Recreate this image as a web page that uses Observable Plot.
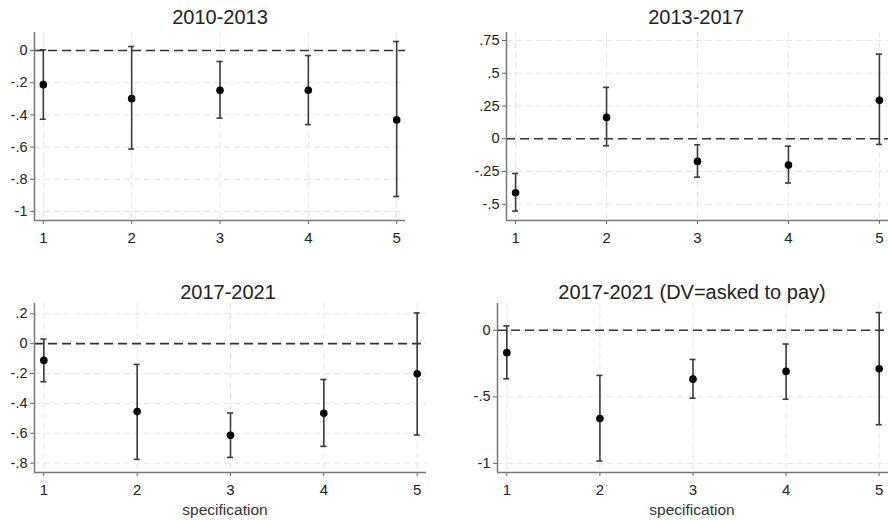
<!DOCTYPE html>
<html>
<head>
<meta charset="utf-8">
<script src="https://cdn.jsdelivr.net/npm/d3@7"></script>
<script src="https://cdn.jsdelivr.net/npm/@observablehq/plot@0.6"></script>
<style>
  html, body { margin: 0; padding: 0; background: #fff; }
  #wrap { position: relative; width: 888px; height: 520px; overflow: hidden; font-family: "Liberation Sans", Arial, sans-serif; }
  .panel { position: absolute; width: 444px; height: 260px; }
  .panel svg { position: absolute; left: 0; top: 0; overflow: visible; }
  .title { position: absolute; font-size: 20px; color: #222; white-space: nowrap; transform: translate(-50%, -50%); }
  .xlab { position: absolute; font-size: 15.5px; color: #333; white-space: nowrap; transform: translate(-50%, -50%); }
</style>
</head>
<body>
<div id="wrap"></div>
<script>
// ---- data ----
const specs = [1, 2, 3, 4, 5];

const titles = ["2010-2013", "2013-2017", "2017-2021", "2017-2021 (DV=asked to pay)"];

const est2010 = [-0.212, -0.299, -0.247, -0.247, -0.431];
const lo2010  = [-0.427, -0.612, -0.420, -0.460, -0.907];
const hi2010  = [ 0.004,  0.025, -0.068, -0.031,  0.056];

const est2013 = [-0.412,  0.163, -0.173, -0.201,  0.293];
const lo2013  = [-0.552, -0.053, -0.293, -0.338, -0.043];
const hi2013  = [-0.265,  0.392, -0.046, -0.056,  0.646];

const est2017 = [-0.112, -0.455, -0.614, -0.466, -0.202];
const lo2017  = [-0.255, -0.775, -0.762, -0.688, -0.612];
const hi2017  = [ 0.031, -0.139, -0.464, -0.240,  0.206];

const estPay = [-0.168, -0.663, -0.367, -0.309, -0.289];
const loPay  = [-0.364, -0.982, -0.510, -0.518, -0.709];
const hiPay  = [ 0.033, -0.339, -0.219, -0.103,  0.133];

const yTicks2010 = [0, -0.2, -0.4, -0.6, -0.8, -1];
const yTicks2013 = [0.75, 0.5, 0.25, 0, -0.25, -0.5];
const yTicks2017 = [0.2, 0, -0.2, -0.4, -0.6, -0.8];
const yTicksPay  = [0, -0.5, -1];

const xLabel = "specification";

// ---- layout ----
const stataFmt = v => {
  if (v === 0) return "0";
  let s = String(+v.toFixed(2));
  return s.replace(/^(-?)0\./, "$1.");
};

const xDomain = [0.9, 5.1];

const panels = [
  {title: titles[0], est: est2010, lo: lo2010, hi: hi2010, ticks: yTicks2010,
   left: 0, top: 0, ml: 34, mr: 39, mt: 32, mb: 40, y: [-1.056, 0.112], xlab: false, tx: 220, ty: 17},
  {title: titles[1], est: est2013, lo: lo2013, hi: hi2013, ticks: yTicks2013,
   left: 444, top: 0, ml: 62, mr: 0, mt: 32, mb: 40, y: [-0.624, 0.811], xlab: false, tx: 252, ty: 17},
  {title: titles[2], est: est2017, lo: lo2017, hi: hi2017, ticks: yTicks2017,
   left: 0, top: 260, ml: 34, mr: 18, mt: 43, mb: 48, y: [-0.863, 0.269], xlab: true, tx: 228, ty: 32, lx: 225},
  {title: titles[3], est: estPay, lo: loPay, hi: hiPay, ticks: yTicksPay,
   left: 444, top: 260, ml: 53, mr: 0, mt: 43, mb: 48, y: [-1.068, 0.201], xlab: true, tx: 248, ty: 32, lx: 248}
];

const wrap = document.getElementById("wrap");

for (const p of panels) {
  const data = specs.map((s, i) => ({spec: s, est: p.est[i], lo: p.lo[i], hi: p.hi[i]}));
  const innerW = 444 - p.ml - p.mr;
  const capHalf = 3 * (xDomain[1] - xDomain[0]) / innerW; // ~3px each side, in data units
  const div = document.createElement("div");
  div.className = "panel";
  div.style.left = p.left + "px";
  div.style.top = p.top + "px";

  const capMark = (field) => Plot.ruleY(data, {
    y: field, x1: d => d.spec - capHalf, x2: d => d.spec + capHalf,
    stroke: "#3a3a3a", strokeWidth: 1.6
  });

  const chart = Plot.plot({
    width: 444,
    height: 260,
    marginLeft: p.ml,
    marginRight: p.mr,
    marginTop: p.mt,
    marginBottom: p.mb,
    style: {fontFamily: "Liberation Sans, Arial, sans-serif", fontSize: "14.5px", color: "#222", background: "transparent", overflow: "visible"},
    x: {type: "linear", domain: xDomain, label: null},
    y: {type: "linear", domain: p.y, label: null},
    marks: [
      Plot.gridY(p.ticks, {stroke: "#e6e6e6", strokeOpacity: 1, strokeWidth: 1, strokeDasharray: "6,4"}),
      Plot.gridX(specs, {stroke: "#e6e6e6", strokeOpacity: 1, strokeWidth: 1, strokeDasharray: "6,4"}),
      Plot.ruleY([0], {stroke: "#333", strokeWidth: 1.6, strokeDasharray: "9,5"}),
      Plot.link(data, {x1: "spec", x2: "spec", y1: "lo", y2: "hi", stroke: "#3a3a3a", strokeWidth: 1.6}),
      capMark("lo"),
      capMark("hi"),
      Plot.dot(data, {x: "spec", y: "est", r: 3.8, fill: "#000", stroke: "none"}),
      Plot.axisX(specs, {tickFormat: d => String(d), tickSize: 4, tickPadding: 8, stroke: "#666", fontSize: "15px", label: null}),
      Plot.axisY(p.ticks, {tickFormat: stataFmt, tickSize: 4, tickPadding: 3, stroke: "#666", fontSize: "14.5px", label: null}),
      Plot.ruleX([xDomain[0]], {stroke: "#777", strokeWidth: 1.5}),
      Plot.ruleY([p.y[0]], {stroke: "#777", strokeWidth: 1.5})
    ]
  });
  div.appendChild(chart);

  const t = document.createElement("div");
  t.className = "title";
  t.textContent = p.title;
  t.style.left = p.tx + "px";
  t.style.top = p.ty + "px";
  div.appendChild(t);

  if (p.xlab) {
    const l = document.createElement("div");
    l.className = "xlab";
    l.textContent = xLabel;
    l.style.left = p.lx + "px";
    l.style.top = "250px";
    div.appendChild(l);
  }
  wrap.appendChild(div);
}
</script>
</body>
</html>
